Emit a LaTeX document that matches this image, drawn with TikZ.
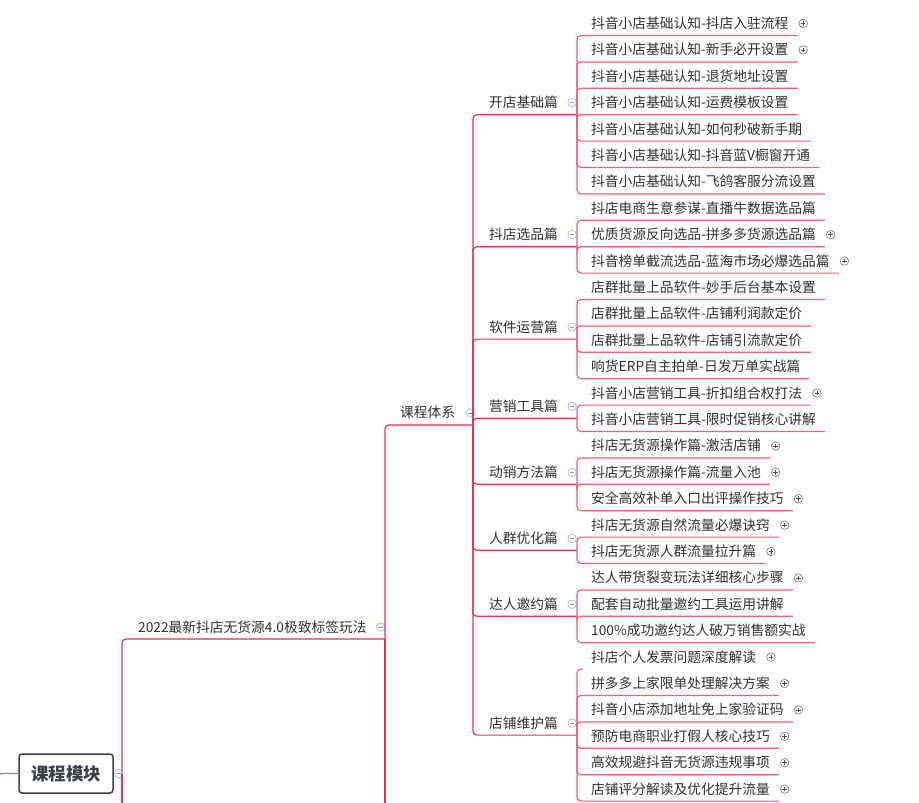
\documentclass[tikz,border=0pt]{standalone}
\usepackage{fontspec}
\setmainfont{Noto Sans CJK SC}
\definecolor{inkgray}{RGB}{48,48,48}
\definecolor{branchred}{RGB}{228,52,84}
\definecolor{twigpink}{RGB}{238,96,122}
\definecolor{plusgray}{RGB}{130,130,130}
\definecolor{foldblue}{RGB}{170,182,226}
\definecolor{rootgray}{RGB}{60,64,78}
\begin{document}
\begin{tikzpicture}[x=1pt, y=-1pt,
  leaf/.style={anchor=west, inner sep=0pt, text height=11pt, text depth=1pt,
    font=\fontsize{13.75}{14}\selectfont, text=inkgray},
  rootbox/.style={draw=rootgray, line width=1.5pt, rounded corners=3pt, fill=white,
    minimum width=94pt, minimum height=39pt, inner sep=0pt,
    font=\fontsize{17.5}{18}\selectfont\bfseries, text=rootgray},
  twig/.style={draw=twigpink, line width=1.2pt, rounded corners=4pt},
  branch/.style={draw=branchred, line width=1.2pt, rounded corners=4pt},
  plusicon/.style={circle, draw=plusgray, fill=white, line width=0.7pt, minimum size=8.5pt, inner sep=0pt,
    path picture={\draw[plusgray!60!black, line width=0.8pt]
      ([xshift=-2.3pt]path picture bounding box.center) -- ([xshift=2.3pt]path picture bounding box.center)
      ([yshift=-2.3pt]path picture bounding box.center) -- ([yshift=2.3pt]path picture bounding box.center);}},
  minusicon/.style={circle, draw=foldblue, fill=white, line width=0.7pt, minimum size=8.5pt, inner sep=0pt,
    path picture={\draw[foldblue!85!black, line width=0.8pt]
      ([xshift=-2.3pt]path picture bounding box.center) -- ([xshift=2.3pt]path picture bounding box.center);}}
]
\useasboundingbox[fill=white] (0,0) rectangle (919,803);

% root and upper levels
\node[rootbox] (root) at (66,773.5) {课程模块};
\node[minusicon] (rootfold) at ([xshift=5pt]root.east) {};
\coordinate (rootj) at (122,773.5);
\coordinate (parentj) at (-2,800);
\coordinate (rootend) at (122,815);
\draw[twig] (parentj) |- (root.west);

\node[leaf] (plan) at (138,627) {2022最新抖店无货源4.0极致标签玩法};
\node[minusicon] (planfold) at ([xshift=14pt]plan.east) {};
\coordinate (planj) at (385,639);
\coordinate (planend) at (385,815);
\draw[branch] (rootj) |- (planj);
\draw[branch] (rootj) -- (rootend);
\draw[branch, line width=1.8pt] (planj) -- (planend);

\node[leaf] (sys) at (400,412.9) {课程体系};
\node[minusicon] (sysfold) at ([xshift=15pt]sys.east) {};
\coordinate (sysj) at (473,424.9);
\draw[branch] (planj) |- (sysj);

% chapters
\foreach \g/\y/\t in {1/102.7/开店基础篇, 2/234.7/抖店选品篇, 3/327.1/软件运营篇,
    4/406.3/营销工具篇, 5/472.3/动销方法篇, 6/538.3/人群优化篇,
    7/604.3/达人邀约篇, 8/723.1/店铺维护篇} {
  \node[leaf] (topic\g) at (489,\y) {\t};
  \node[minusicon] (fold\g) at ([xshift=14pt]topic\g.east) {};
  \coordinate (g\g) at (577,\y+12);
  \draw[branch] (sysj) |- (g\g);
}

% lessons
\foreach \i/\g/\t/\p/\u in {
  1/1/抖音小店基础认知-抖店入驻流程/1/1,
  2/1/抖音小店基础认知-新手必开设置/1/1,
  3/1/抖音小店基础认知-退货地址设置/0/1,
  4/1/抖音小店基础认知-运费模板设置/0/1,
  5/1/抖音小店基础认知-如何秒破新手期/0/1,
  6/1/抖音小店基础认知-抖音蓝V橱窗开通/0/1,
  7/1/抖音小店基础认知-飞鸽客服分流设置/0/1,
  8/2/抖店电商生意参谋-直播牛数据选品篇/0/1,
  9/2/优质货源反向选品-拼多多货源选品篇/1/1,
  10/2/抖音榜单截流选品-蓝海市场必爆选品篇/1/1,
  11/3/店群批量上品软件-妙手后台基本设置/0/1,
  12/3/店群批量上品软件-店铺利润款定价/0/1,
  13/3/店群批量上品软件-店铺引流款定价/0/1,
  14/3/响货ERP自主拍单-日发万单实战篇/0/1,
  15/4/抖音小店营销工具-折扣组合权打法/1/1,
  16/4/抖音小店营销工具-限时促销核心讲解/0/1,
  17/5/抖店无货源操作篇-激活店铺/1/1,
  18/5/抖店无货源操作篇-流量入池/1/1,
  19/5/安全高效补单入口出评操作技巧/1/1,
  20/6/抖店无货源自然流量必爆诀窍/1/1,
  21/6/抖店无货源人群流量拉升篇/1/1,
  22/7/达人带货裂变玩法详细核心步骤/1/1,
  23/7/配套自动批量邀约工具运用讲解/0/1,
  24/7/100\%成功邀约达人破万销售额实战/0/1,
  25/8/抖店个人发票问题深度解读/1/0,
  26/8/拼多多上家限单处理解决方案/1/1,
  27/8/抖音小店添加地址免上家验证码/1/1,
  28/8/预防电商职业打假人核心技巧/1/1,
  29/8/高效规避抖音无货源违规事项/1/1,
  30/8/店铺评分解读及优化提升流量/1/1} {
  \node[leaf] (leaf\i) at (591,23.5+26.4*\i-26.4) {\t};
  \ifnum\u=1
    \draw[twig] (g\g) |- ([shift={(9,12)}]leaf\i.east);
  \else
    \draw[twig] (g\g) |- ([shift={(-8,12)}]leaf\i.west);
  \fi
  \ifnum\p=1
    \node[plusicon] (plus\i) at ([xshift=14.5pt]leaf\i.east) {};
  \fi
}
\end{tikzpicture}
\end{document}
